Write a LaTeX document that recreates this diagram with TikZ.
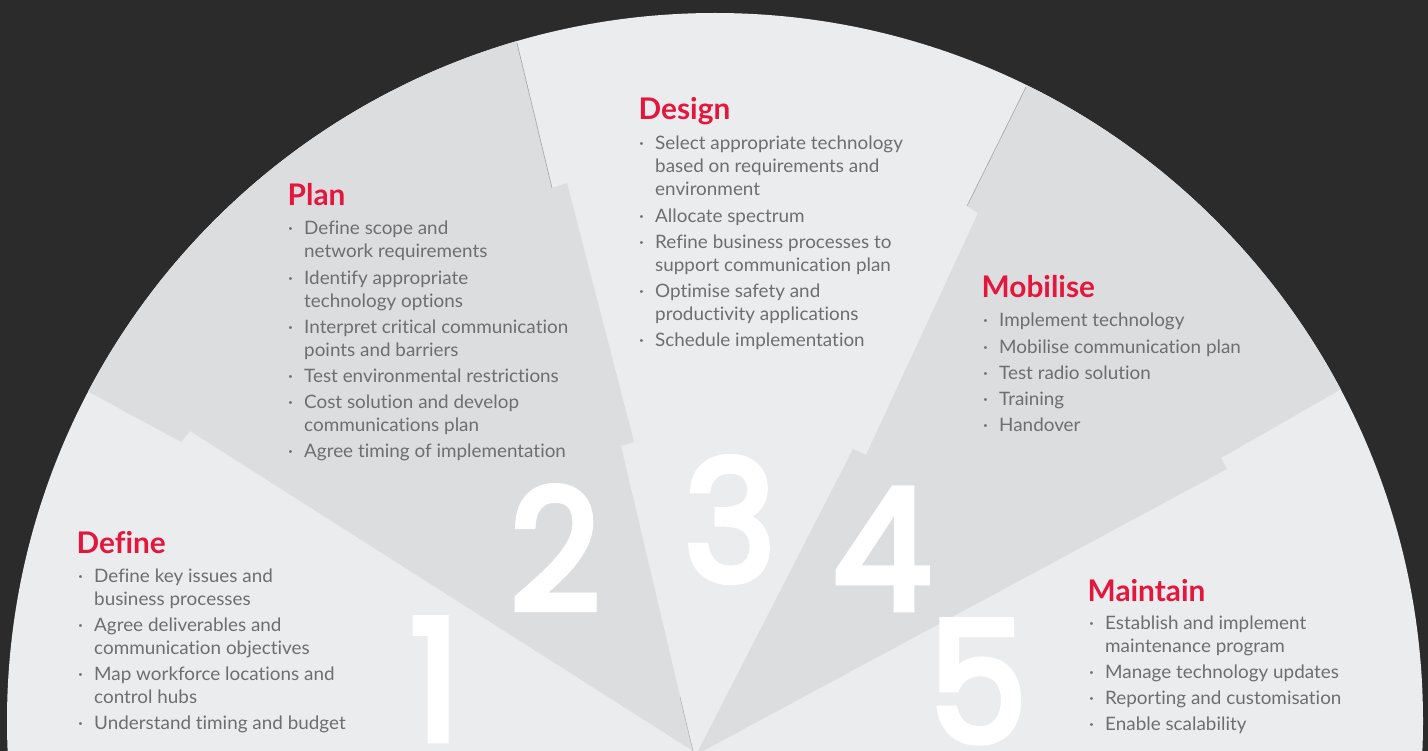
\documentclass[tikz,border=0pt]{standalone}
\usepackage{fontspec}
\setmainfont{Lato}[Ligatures=NoCommon]
\newfontfamily\bodyfont{Lato}[FakeStretch=1.02, Ligatures=NoCommon]
\newfontfamily\numfont{Poppins}[FakeBold=4, FakeStretch=0.93]
\definecolor{bgdark}{HTML}{2B2B2C}
\definecolor{seclight}{HTML}{EBECEE}
\definecolor{secdark}{HTML}{DCDDDF}
\definecolor{titlered}{HTML}{E3173E}
\definecolor{bodygrey}{HTML}{6D6E71}
\definecolor{edgegrey}{HTML}{A4A5A8}
\newcommand\bitem[1]{\par\hangindent=16pt\hangafter=1\noindent\makebox[16pt][l]{·}#1}
\newcommand\steplist[1]{\parbox[t]{340pt}{\bodyfont\fontsize{18.5}{23}\selectfont\setlength\parskip{3.1pt}#1}}
\tikzset{
  titletext/.style={anchor=base west, inner sep=0pt, text=titlered, font=\fontsize{29.8}{32}\selectfont\bfseries},
  listtext/.style={anchor=base west, inner sep=0pt, text=bodygrey},
  bignum/.style={anchor=base, inner sep=0pt, text=white, font=\numfont\fontsize{168}{170}\selectfont},
  thinedge/.style={draw=edgegrey, line width=0.6pt}
}
\begin{document}
\begin{tikzpicture}[x=1pt,y=-1pt]
\useasboundingbox (0,0) rectangle (1428,751);
\fill[bgdark] (0,0) rectangle (1428,751);
\begin{scope}
  \clip (715,721) circle (708pt);
  \fill[seclight] (0,0) rectangle (1428,751);
  % Plan blade
  \fill[secdark] (693,751) -- (190,431) -- (181,442) -- (89,392) -- (-3,342)
     -- (482,-102) -- (517,43) -- (552,188) -- (567,183) -- (634,442) -- (621,446) -- cycle;
  % Mobilise blade
  \fill[secdark] (698,751) -- (853,449) -- (866,455) -- (978,213) -- (967,206)
     -- (1026,87) -- (1085,-32) -- (1455,324) -- (1338,391) -- (1221,458) -- (1227,469) -- (703,751) -- cycle;
\end{scope}
\coordinate (e1a) at (517,43);
\coordinate (e1b) at (552,188);
\coordinate (e2a) at (1026,87);
\coordinate (e2b) at (967,206);
\coordinate (e3a) at (680,697);
\coordinate (e3b) at (693,751);
\draw[thinedge] (e1a) -- (e1b);
\draw[thinedge] (e2a) -- (e2b);
\draw[thinedge, line width=0.4pt] (e3a) -- (e3b);

% big numbers
\node[bignum] (n1) at (435,740) {1};
\node[bignum] (n2) at (555,610) {2};
\node[bignum] (n3) at (730,581) {3};
\node[bignum] (n4) at (882,609) {4};
\node[bignum] (n5) at (978,742) {5};

% Define
\node[titletext] (t1) at (76.5,553) {Define};
\node[listtext] (l1) at (78,582) {\steplist{%
  \bitem{Define key issues and\\business processes}
  \bitem{Agree deliverables and\\communication objectives}
  \bitem{Map workforce locations and\\control hubs}
  \bitem{Understand timing and budget}}};

% Plan
\node[titletext] (t2) at (287.5,206) {Plan};
\node[listtext] (l2) at (288,235) {\steplist{%
  \bitem{Define scope and\\network requirements}
  \bitem{Identify appropriate\\technology options}
  \bitem{Interpret critical communication\\points and barriers}
  \bitem{Test environmental restrictions}
  \bitem{Cost solution and develop\\communications plan}
  \bitem{Agree timing of implementation}}};

% Design
\node[titletext] (t3) at (638.5,120) {Design};
\node[listtext] (l3) at (639,150) {\steplist{%
  \bitem{Select appropriate technology\\based on requirements and\\environment}
  \bitem{Allocate spectrum}
  \bitem{Refine business processes to\\support communication plan}
  \bitem{Optimise safety and\\productivity applications}
  \bitem{Schedule implementation}}};

% Mobilise
\node[titletext] (t4) at (981.5,298) {Mobilise};
\node[listtext] (l4) at (983,327) {\steplist{%
  \bitem{Implement technology}
  \bitem{Mobilise communication plan}
  \bitem{Test radio solution}
  \bitem{Training}
  \bitem{Handover}}};

% Maintain
\node[titletext] (t5) at (1087.5,601) {Maintain};
\node[listtext] (l5) at (1089,629.5) {\steplist{%
  \bitem{Establish and implement\\maintenance program}
  \bitem{Manage technology updates}
  \bitem{Reporting and customisation}
  \bitem{Enable scalability}}};
\end{tikzpicture}
\end{document}
